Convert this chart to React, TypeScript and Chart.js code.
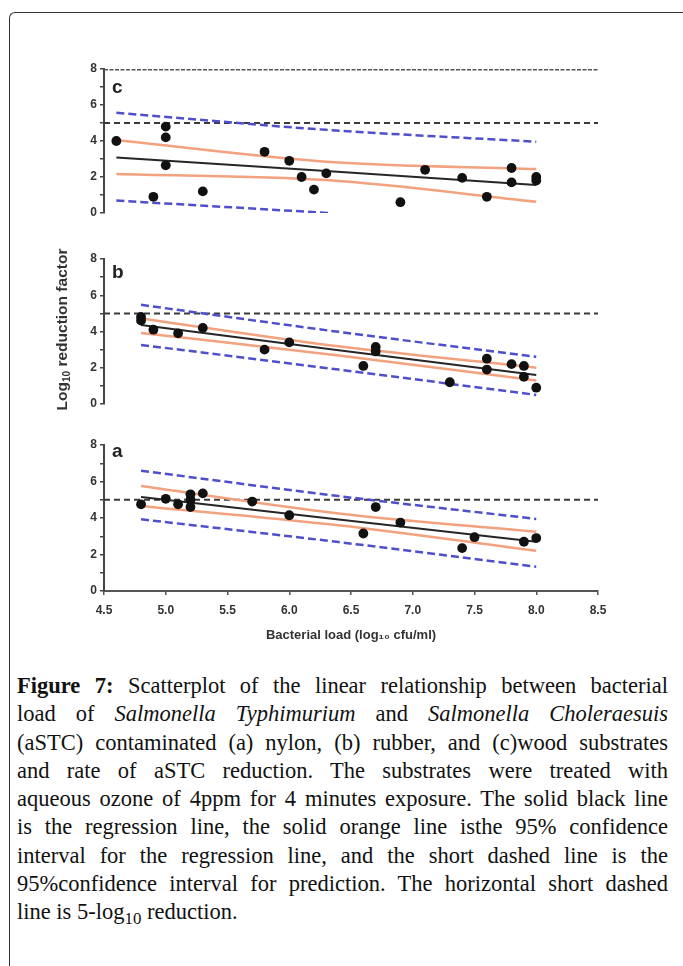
import React, { useEffect, useRef } from "react";
import { Chart, registerables } from "chart.js";

Chart.register(...registerables);

// ---------- shared axis range ----------
const xRange = [4.5, 8.5];
const thresholdX = [4.5, 8.5];
const thresholdY = [5, 5];
const frameY = [8, 8];

// ---------- panel a (nylon) ----------
const aPointX = [4.8, 5.0, 5.1, 5.2, 5.2, 5.2, 5.3, 5.7, 6.0, 6.6, 6.7, 6.9, 7.4, 7.5, 7.9, 8.0];
const aPointY = [4.75, 5.05, 4.75, 5.3, 5.0, 4.6, 5.35, 4.9, 4.15, 3.15, 4.6, 3.75, 2.35, 2.95, 2.7, 2.9];
const aLineX = [4.8, 6.4, 8.0];
const aReg = [5.15, 3.92, 2.7];
const aCiUp = [5.75, 4.25, 3.25];
const aCiLo = [4.66, 3.6, 2.2];
const aPiUp = [6.59, 5.2, 3.95];
const aPiLo = [3.93, 2.68, 1.33];

// ---------- panel b (rubber) ----------
const bPointX = [4.8, 4.8, 4.9, 5.1, 5.3, 5.8, 6.0, 6.6, 6.7, 6.7, 7.3, 7.6, 7.6, 7.8, 7.9, 7.9, 8.0];
const bPointY = [4.8, 4.6, 4.1, 3.9, 4.2, 3.0, 3.4, 2.1, 3.15, 2.9, 1.2, 2.5, 1.9, 2.2, 2.1, 1.5, 0.9];
const bLineX = [4.8, 6.4, 8.0];
const bReg = [4.36, 2.97, 1.6];
const bCiUp = [4.72, 3.18, 2.0];
const bCiLo = [3.92, 2.68, 1.3];
const bPiUp = [5.47, 3.98, 2.6];
const bPiLo = [3.26, 1.9, 0.5];

// ---------- panel c (wood) ----------
const cPointX = [4.6, 4.9, 5.0, 5.0, 5.0, 5.3, 5.8, 6.0, 6.1, 6.2, 6.3, 6.9, 7.1, 7.4, 7.6, 7.8, 7.8, 8.0, 8.0];
const cPointY = [4.0, 0.9, 4.8, 4.2, 2.65, 1.2, 3.4, 2.9, 2.0, 1.3, 2.2, 0.6, 2.4, 1.95, 0.9, 2.5, 1.7, 2.0, 1.8];
const cLineX = [4.6, 6.3, 8.0];
const cReg = [3.09, 2.33, 1.56];
const cCiUp = [4.05, 2.85, 2.44];
const cCiLo = [2.17, 1.83, 0.63];
const cPiUp = [5.57, 4.62, 3.96];
const cPiLoX = [4.6, 6.32];
const cPiLo = [0.69, 0.0];

const yTitleMain = "Log";
const yTitleSub = "10";
const yTitleRest = " reduction factor";
const xTitle = "Bacterial load (log\u2081\u2080 cfu/ml)";

const ORANGE = "#f2a27f";
const BLUE = "#4f4fcc";
const BLACK = "#262626";

const zip = (xs: number[], ys: number[]) => xs.map((x, i) => ({ x, y: ys[i] }));

const SANS = "'Liberation Sans', Arial, sans-serif";

type PanelProps = {
  letter: string;
  px: number[]; py: number[];
  lx: number[]; reg: number[]; ciUp: number[]; ciLo: number[];
  piUp: number[]; piUpX: number[]; piLo: number[]; piLoX: number[];
  frame: boolean;
  showX: boolean;
  showYTitle: boolean;
  top: number; height: number;
  pad: { top: number; bottom: number; left: number; right: number };
  letterDy: number;
};

const letterPlugin = {
  id: "panelLetter",
  afterDraw(chart: any) {
    const o = chart.options.plugins.panelLetter;
    if (!o) return;
    const { ctx, chartArea } = chart;
    ctx.save();
    ctx.font = `bold 19px ${SANS}`;
    ctx.fillStyle = "#222";
    ctx.textBaseline = "middle";
    ctx.textAlign = "left";
    ctx.fillText(o.text, chartArea.left + 8, chartArea.top + o.dy);
    if (o.yTitle) {
      const cx = 63;
      const cy = (chartArea.top + chartArea.bottom) / 2 - 2;
      const big = `bold 15.5px ${SANS}`;
      const small = `bold 10px ${SANS}`;
      ctx.font = big;
      const w1 = ctx.measureText(yTitleMain).width;
      const w3 = ctx.measureText(yTitleRest).width;
      ctx.font = small;
      const w2 = ctx.measureText(yTitleSub).width;
      const total = w1 + w2 + w3;
      ctx.translate(cx, cy);
      ctx.rotate(-Math.PI / 2);
      ctx.fillStyle = "#333";
      ctx.textAlign = "left";
      ctx.textBaseline = "middle";
      let x = -total / 2;
      ctx.font = big;
      ctx.fillText(yTitleMain, x, 0);
      x += w1;
      ctx.font = small;
      ctx.fillText(yTitleSub, x, 4);
      x += w2;
      ctx.font = big;
      ctx.fillText(yTitleRest, x, 0);
    }
    ctx.restore();
  },
};

function Panel(p: PanelProps) {
  const ref = useRef<HTMLCanvasElement | null>(null);
  useEffect(() => {
    if (!ref.current) return;
    const lineDs = (label: string, data: any[], color: string, width: number, dash: number[] = [], smooth = false) => ({
      label,
      data,
      showLine: true,
      borderColor: color,
      backgroundColor: color,
      borderWidth: width,
      borderDash: dash,
      pointRadius: 0,
      pointHoverRadius: 0,
      cubicInterpolationMode: smooth ? "monotone" : "default",
      tension: 0,
      fill: false,
    });
    const datasets: any[] = [
      {
        label: "Observed",
        data: zip(p.px, p.py),
        showLine: false,
        pointRadius: 4.9,
        pointBackgroundColor: "#111",
        pointBorderColor: "#111",
        pointBorderWidth: 0,
      },
      lineDs("Regression line", zip(p.lx, p.reg), BLACK, 2),
      lineDs("95% CI upper", zip(p.lx, p.ciUp), ORANGE, 2.5, [], true),
      lineDs("95% CI lower", zip(p.lx, p.ciLo), ORANGE, 2.5, [], true),
      lineDs("95% PI upper", zip(p.piUpX, p.piUp), BLUE, 2.5, [8, 4], true),
      lineDs("95% PI lower", zip(p.piLoX, p.piLo), BLUE, 2.5, [8, 4], true),
      lineDs("5-log reduction", zip(thresholdX, thresholdY), "#3a3a3a", 2, [6, 4]),
    ];
    if (p.frame) datasets.push(lineDs("frame", zip(xRange, frameY), "#555", 3, [4, 1.5]));

    const xScale: any = p.showX
      ? {
          type: "linear",
          min: xRange[0],
          max: xRange[1],
          afterFit: (s: any) => { s.height = 52; },
          ticks: {
            stepSize: 0.5,
            autoSkip: false,
            maxRotation: 0,
            padding: 8,
            color: "#333",
            font: { family: SANS, weight: "bold", size: 12 },
            callback: (v: any) => Number(v).toFixed(1),
          },
          grid: { drawOnChartArea: false, drawTicks: true, tickLength: 4, color: "#555", lineWidth: 1.5 },
          border: { display: true, color: "#555", width: 2 },
          title: {
            display: true,
            text: xTitle,
            color: "#333",
            font: { family: SANS, weight: "bold", size: 13 },
            padding: 0,
          },
        }
      : { type: "linear", min: xRange[0], max: xRange[1], display: false };

    const chart = new Chart(ref.current, {
      type: "scatter",
      data: { datasets },
      plugins: [letterPlugin],
      options: {
        animation: false,
        responsive: false,
        devicePixelRatio: 1,
        layout: { padding: p.pad },
        plugins: {
          legend: { display: false },
          tooltip: { enabled: false },
          panelLetter: { text: p.letter, dy: p.letterDy, yTitle: p.showYTitle },
        } as any,
        scales: {
          x: xScale,
          y: {
            type: "linear",
            min: 0,
            max: 8,
            afterFit: (s: any) => { s.width = 40; },
            ticks: {
              stepSize: 1,
              autoSkip: false,
              padding: 3,
              color: "#333",
              font: { family: SANS, weight: "bold", size: 12 },
              callback: (v: any) => (Number(v) % 2 === 0 ? String(v) : ""),
            },
            grid: { drawOnChartArea: false, drawTicks: true, tickLength: 4, color: "#444", lineWidth: 1.5 },
            border: { display: true, color: "#444", width: 2 },
          },
        },
      } as any,
    } as any);
    return () => chart.destroy();
  }, []);
  return (
    <canvas
      ref={ref}
      width={683}
      height={p.height}
      style={{ position: "absolute", left: 0, top: p.top, width: 683, height: p.height, display: "block" }}
    />
  );
}

const captionLines: React.ReactNode[] = [
  <><b>Figure 7:</b> Scatterplot of the linear relationship between bacterial</>,
  <>load of <i>Salmonella Typhimurium</i> and <i>Salmonella Choleraesuis</i></>,
  <>(aSTC) contaminated (a) nylon, (b) rubber, and (c)wood substrates</>,
  <>and rate of aSTC reduction. The substrates were treated with</>,
  <>aqueous ozone of 4ppm for 4 minutes exposure. The solid black line</>,
  <>is the regression line, the solid orange line isthe 95% confidence</>,
  <>interval for the regression line, and the short dashed line is the</>,
  <>95%confidence interval for prediction. The horizontal short dashed</>,
];

export default function App() {
  return (
    <div style={{ position: "absolute", left: 0, top: 0, width: 683, height: 966, overflow: "hidden", background: "#fff" }}>
      <div
        style={{
          position: "absolute",
          left: 9,
          top: 12,
          width: 700,
          height: 980,
          borderLeft: "1.6px solid #333",
          borderTop: "1.6px solid #333",
          borderTopLeftRadius: 6,
        }}
      />
      <Panel
        letter="c" px={cPointX} py={cPointY} lx={cLineX} reg={cReg} ciUp={cCiUp} ciLo={cCiLo}
        piUp={cPiUp} piUpX={cLineX} piLo={cPiLo} piLoX={cPiLoX}
        frame={true} showX={false} showYTitle={false}
        top={50} height={180} pad={{ top: 19, bottom: 17, left: 64, right: 85 }} letterDy={19}
      />
      <Panel
        letter="b" px={bPointX} py={bPointY} lx={bLineX} reg={bReg} ciUp={bCiUp} ciLo={bCiLo}
        piUp={bPiUp} piUpX={bLineX} piLo={bPiLo} piLoX={bLineX}
        frame={false} showX={false} showYTitle={true}
        top={240} height={180} pad={{ top: 19, bottom: 16, left: 64, right: 85 }} letterDy={14}
      />
      <Panel
        letter="a" px={aPointX} py={aPointY} lx={aLineX} reg={aReg} ciUp={aCiUp} ciLo={aCiLo}
        piUp={aPiUp} piUpX={aLineX} piLo={aPiLo} piLoX={aLineX}
        frame={false} showX={true} showYTitle={false}
        top={430} height={220} pad={{ top: 15, bottom: 7, left: 64, right: 85 }} letterDy={7}
      />
      <div
        style={{
          position: "absolute",
          left: 17,
          top: 672,
          width: 651,
          fontFamily: "'Liberation Serif', 'Times New Roman', serif",
          fontSize: 22.5,
          lineHeight: "28.3px",
          color: "#111",
        }}
      >
        {captionLines.map((l, i) => (
          <div key={i} style={{ whiteSpace: "nowrap", textAlign: "justify", textAlignLast: "justify" }}>{l}</div>
        ))}
        <div style={{ whiteSpace: "nowrap" }}>
          line is 5-log<sub style={{ fontSize: "0.75em", verticalAlign: "-0.3em", lineHeight: 0 }}>10</sub> reduction.
        </div>
      </div>
    </div>
  );
}
